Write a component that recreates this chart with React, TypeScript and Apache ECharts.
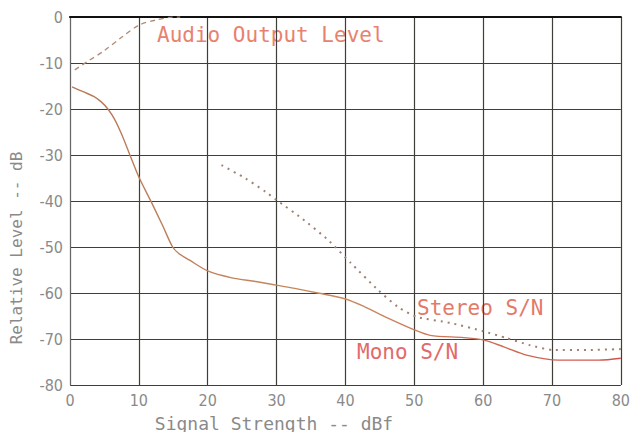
import React, { useEffect, useRef } from "react";
import * as echarts from "echarts";

const xTicks = [0, 10, 20, 30, 40, 50, 60, 70, 80];
const yTicks = [0, -10, -20, -30, -40, -50, -60, -70, -80];

const audioOutput: [number, number][] = [
  [0.7, -11.5], [2.4, -9.8], [4.8, -7.5], [7.6, -4.3], [10.1, -1.7],
  [12.5, -0.65], [14.4, -0.1], [16, 0],
];

const monoSN: [number, number][] = [
  [0.3, -15.2], [2, -16.3], [3.5, -17.3], [4.5, -18.4], [5.5, -20], [6.5, -22.3],
  [7.5, -25.5], [8.6, -29.6], [10, -34.8], [11.8, -40.2], [13.5, -45.5], [14.9, -50],
  [15.8, -51.4], [17.3, -52.8], [20, -55.2], [23.5, -56.7], [27, -57.5],
  [30, -58.3], [33, -59.1], [36, -60], [40, -61.3], [42.8, -63],
  [46.1, -65.4], [50, -68], [52.3, -69.2], [57.2, -69.7], [60, -70.2],
  [63, -71.7], [66.3, -73.5], [71, -74.6], [76.8, -74.6], [80, -74.2],
];

const stereoSN: [number, number][] = [
  [22, -32.2], [25.5, -35.1], [28.4, -38], [30, -39.8], [33.6, -43.7],
  [37.5, -48.5], [40.8, -53.5], [44.7, -59.3], [47.6, -63], [50.4, -65.2],
  [55.2, -66.5], [60, -68.3], [63.4, -69.8], [66.7, -71.3], [70.2, -72.4],
  [75, -72.4], [80, -72.2],
];

const seriesLabels = ["Audio Output Level", "Stereo S/N", "Mono S/N"];
const xTitle = "Signal Strength -- dBf";
const yTitle = "Relative Level -- dB";

export default function App() {
  const ref = useRef<HTMLDivElement>(null);
  useEffect(() => {
    if (!ref.current) return;
    const chart = echarts.init(ref.current, null, { renderer: "svg" });
    const tickFont = {
      color: "#8a8a8a",
      fontFamily: "'DejaVu Sans Condensed', 'DejaVu Sans', sans-serif",
      fontSize: 16,
    };
    const mono = "DejaVu Sans Mono";
    chart.setOption({
      animation: false,
      backgroundColor: "#ffffff",
      grid: { left: 70, top: 17, right: 8, bottom: 47, containLabel: false },
      xAxis: [
        {
          type: "value",
          min: xTicks[0],
          max: xTicks[xTicks.length - 1],
          interval: 10,
          axisLine: { show: true, lineStyle: { color: "#777", width: 1 } },
          axisTick: { show: false },
          axisLabel: { ...tickFont, margin: 7 },
          splitLine: { show: true, lineStyle: { color: "#3d3f38", width: 1.2 } },
        },
        {
          type: "value",
          position: "top",
          min: 0,
          max: 80,
          axisLine: { show: true, lineStyle: { color: "#111", width: 2.2 } },
          axisTick: { show: false },
          axisLabel: { show: false },
          splitLine: { show: false },
        },
      ],
      yAxis: [
        {
          type: "value",
          min: yTicks[yTicks.length - 1],
          max: yTicks[0],
          interval: 10,
          axisLine: { show: true, lineStyle: { color: "#777", width: 1 } },
          axisTick: { show: false },
          axisLabel: { ...tickFont, margin: 7 },
          splitLine: { show: true, lineStyle: { color: "#3d3f38", width: 1.2 } },
        },
        {
          type: "value",
          position: "right",
          min: -80,
          max: 0,
          axisLine: { show: true, lineStyle: { color: "#666", width: 1 } },
          axisTick: { show: false },
          axisLabel: { show: false },
          splitLine: { show: false },
        },
      ],
      series: [
        {
          name: seriesLabels[0],
          type: "line",
          data: audioOutput,
          showSymbol: false,
          smooth: 0.3,
          lineStyle: { color: "#b08a72", width: 1.3, type: [5, 4] },
          z: 5,
        },
        {
          name: seriesLabels[2],
          type: "line",
          data: monoSN,
          showSymbol: false,
          smooth: 0.3,
          lineStyle: {
            width: 1.4,
            color: new echarts.graphic.LinearGradient(0, 0, 1, 0, [
              { offset: 0, color: "#b9785a" },
              { offset: 0.5, color: "#c98a5e" },
              { offset: 1, color: "#d2524e" },
            ]),
          },
          z: 5,
        },
        {
          name: seriesLabels[1],
          type: "line",
          data: stereoSN,
          showSymbol: false,
          smooth: 0.2,
          lineStyle: { color: "#a08070", width: 2, type: [2, 5] },
          z: 5,
        },
      ],
      graphic: [
        {
          type: "text",
          left: 157,
          top: 24,
          style: { text: seriesLabels[0], fill: "#e8826e", font: `21px '${mono}'` },
        },
        {
          type: "text",
          left: 417,
          top: 297,
          style: { text: seriesLabels[1], fill: "#e27a6a", font: `21px '${mono}'` },
        },
        {
          type: "text",
          left: 357,
          top: 341,
          style: { text: seriesLabels[2], fill: "#e26a6a", font: `21px '${mono}'` },
        },
        {
          type: "text",
          x: 274,
          y: 423,
          style: {
            text: xTitle,
            fill: "#8a8a8a",
            font: `18px '${mono}'`,
            align: "center",
            verticalAlign: "middle",
          },
        },
        {
          type: "text",
          x: 16,
          y: 248,
          rotation: Math.PI / 2,
          style: {
            text: yTitle,
            fill: "#8a8a8a",
            font: `16px '${mono}'`,
            align: "center",
            verticalAlign: "middle",
          },
        },
      ],
    });
    return () => chart.dispose();
  }, []);
  return <div ref={ref} style={{ width: 633, height: 432, position: "absolute", left: 0, top: 0 }} />;
}
